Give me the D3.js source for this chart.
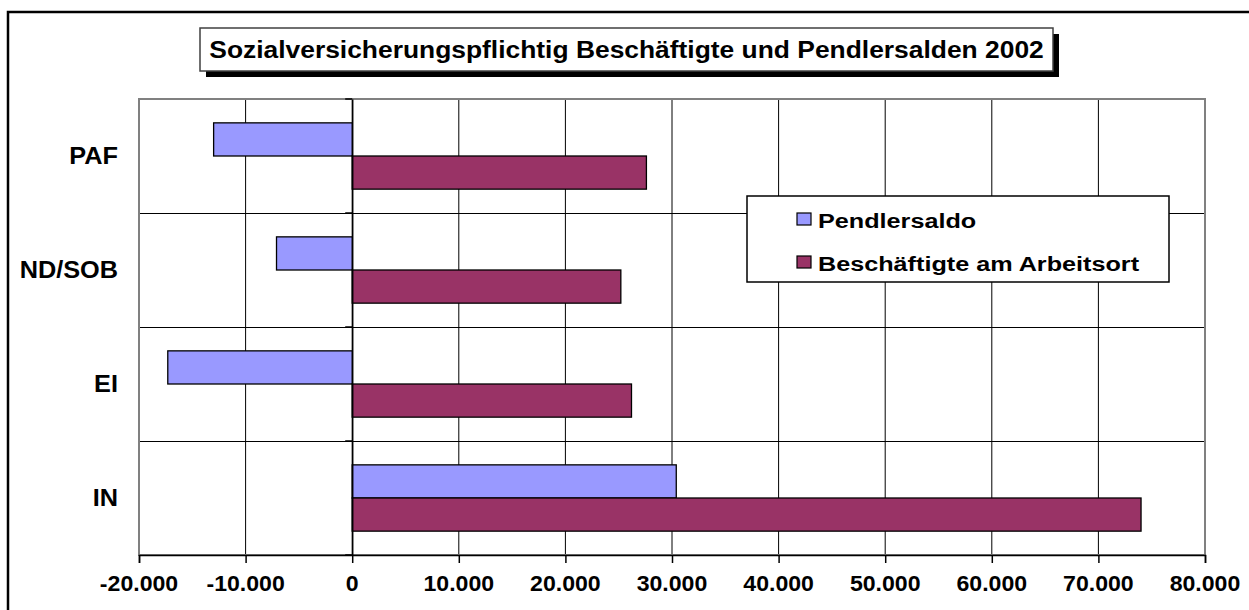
<!DOCTYPE html>
<html>
<head>
<meta charset="utf-8">
<script src="https://cdn.jsdelivr.net/npm/d3@7"></script>
<style>
  body { margin: 0; background: #fff; }
  text { font-family: "Liberation Sans", Arial, sans-serif; font-weight: bold; fill: #000; }
</style>
</head>
<body>
<div id="chart"></div>
<script>
// chart data
const categories = ["PAF", "ND/SOB", "EI", "IN"];
const seriesNames = ["Pendlersaldo", "Beschäftigte am Arbeitsort"];
const pendlersaldo = [-13000, -7100, -17300, 30400];
const beschaeftigte = [27600, 25200, 26200, 74000];
const xTicks = [-20000, -10000, 0, 10000, 20000, 30000, 40000, 50000, 60000, 70000, 80000];
const titleText = "Sozialversicherungspflichtig Beschäftigte und Pendlersalden 2002";

const colors = ["#9999ff", "#993366"];
const width = 1249, height = 610;
const plot = { left: 139, right: 1205, top: 99, bottom: 555 };

const svg = d3.select("#chart").append("svg")
    .attr("width", width)
    .attr("height", height);

// stretched text helper (the original picture is a bit wider than normal Arial)
function stretchText(g, x, y, str, size, sx, anchor) {
    return g.append("text")
        .attr("transform", `translate(${x},${y}) scale(${sx},1)`)
        .attr("text-anchor", anchor)
        .style("font-size", size + "px")
        .text(str);
}

// outer frame
svg.append("rect")
    .attr("x", 8).attr("y", 12)
    .attr("width", 1300).attr("height", 700)
    .attr("fill", "none")
    .attr("stroke", "#000")
    .attr("stroke-width", 2.5);

const x = d3.scaleLinear()
    .domain([xTicks[0], xTicks[xTicks.length - 1]])
    .range([plot.left, plot.right]);

const y = d3.scaleBand()
    .domain(categories)
    .range([plot.top, plot.bottom])
    .padding(0);

const ySub = d3.scaleBand()
    .domain([0, 1])
    .range([0, y.bandwidth()])
    .paddingInner(0)
    .paddingOuter(0.72);

// vertical gridlines
svg.append("g")
    .selectAll("line")
    .data(xTicks.slice(1, -1))
    .join("line")
    .attr("x1", d => x(d)).attr("x2", d => x(d))
    .attr("y1", plot.top).attr("y2", plot.bottom)
    .attr("stroke", "#000")
    .attr("stroke-width", 1);

// horizontal category gridlines
svg.append("g")
    .selectAll("line")
    .data(categories.slice(1))
    .join("line")
    .attr("x1", plot.left).attr("x2", plot.right)
    .attr("y1", d => y(d) + 0.5).attr("y2", d => y(d) + 0.5)
    .attr("stroke", "#000")
    .attr("stroke-width", 1);

// plot area border
svg.append("rect")
    .attr("x", plot.left).attr("y", plot.top)
    .attr("width", plot.right - plot.left)
    .attr("height", plot.bottom - plot.top)
    .attr("fill", "none")
    .attr("stroke", "#808080")
    .attr("stroke-width", 2);

// bars
const values = [pendlersaldo, beschaeftigte];
values.forEach((vals, s) => {
    svg.append("g")
        .selectAll("rect")
        .data(vals)
        .join("rect")
        .attr("x", d => x(Math.min(0, d)))
        .attr("y", (d, i) => y(categories[i]) + ySub(s))
        .attr("width", d => Math.abs(x(d) - x(0)))
        .attr("height", ySub.bandwidth())
        .attr("fill", colors[s])
        .attr("stroke", "#000")
        .attr("stroke-width", 1.3);
});

// category axis at zero
const yAxis = svg.append("g")
    .attr("transform", `translate(${x(0)},0)`)
    .call(d3.axisLeft(y).tickValues([]).tickSizeOuter(0));
yAxis.select(".domain").attr("stroke", "#000").attr("stroke-width", 1.5);
yAxis.selectAll(".bnd")
    .data(categories.concat(["end"]))
    .join("line")
    .attr("class", "bnd")
    .attr("x1", -7).attr("x2", 0)
    .attr("y1", (d, i) => i < categories.length ? y(d) : plot.bottom)
    .attr("y2", (d, i) => i < categories.length ? y(d) : plot.bottom)
    .attr("stroke", "#000")
    .attr("stroke-width", 1.5);

// value axis
const xAxis = svg.append("g")
    .attr("transform", `translate(0,${plot.bottom})`)
    .call(d3.axisBottom(x).tickValues(xTicks).tickSize(8).tickFormat(() => ""));
xAxis.select(".domain").attr("stroke", "#000").attr("stroke-width", 1.5);
xAxis.selectAll(".tick line").attr("stroke", "#000").attr("stroke-width", 1.5);

const fmt = d => d3.format(",")(d).replace(/,/g, ".");
const labelG = svg.append("g");
xTicks.forEach(t => {
    stretchText(labelG, x(t), 591, fmt(t).replace("−", "-"), 22, 1.05, "middle");
});

// category labels
categories.forEach(c => {
    stretchText(labelG, 118, y(c) + y.bandwidth() / 2 + 8, c, 23, 1.1, "end");
});

// title box with shadow
const tb = { x: 200, y: 28, w: 853, h: 43 };
svg.append("rect")
    .attr("x", tb.x + 6).attr("y", tb.y + 6)
    .attr("width", tb.w).attr("height", tb.h)
    .attr("fill", "#000");
svg.append("rect")
    .attr("x", tb.x).attr("y", tb.y)
    .attr("width", tb.w).attr("height", tb.h)
    .attr("fill", "#fff")
    .attr("stroke", "#404040")
    .attr("stroke-width", 1.5);
stretchText(svg, tb.x + tb.w / 2, tb.y + 30, titleText, 24, 1.1, "middle");

// legend
const lg = svg.append("g");
lg.append("rect")
    .attr("x", 747).attr("y", 196)
    .attr("width", 422).attr("height", 86)
    .attr("fill", "#fff")
    .attr("stroke", "#000")
    .attr("stroke-width", 1.5);
seriesNames.forEach((name, i) => {
    lg.append("rect")
        .attr("x", 797).attr("y", 213 + i * 43)
        .attr("width", 14).attr("height", 12)
        .attr("fill", colors[i])
        .attr("stroke", "#000")
        .attr("stroke-width", 1.2);
    stretchText(lg, 818, 228 + i * 43, name, 21, 1.2, "start");
});
</script>
</body>
</html>
